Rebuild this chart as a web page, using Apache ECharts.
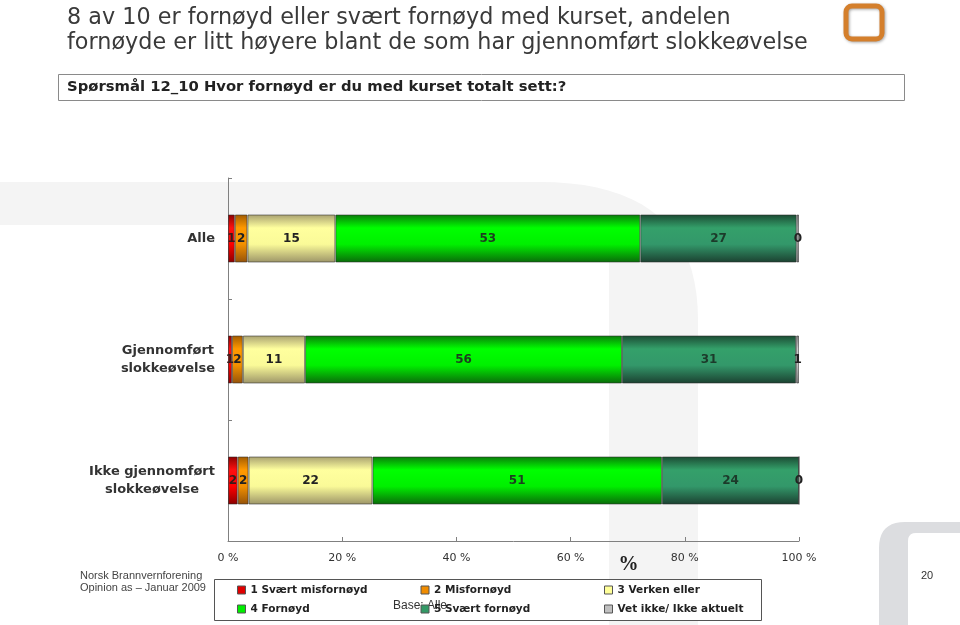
<!DOCTYPE html>
<html>
<head>
<meta charset="utf-8">
<script src="https://cdn.jsdelivr.net/npm/echarts@6/dist/echarts.min.js"></script>
<style>
html,body{margin:0;padding:0;background:#fff;}
#c{width:960px;height:625px;}
</style>
</head>
<body>
<div id="c"></div>
<script>
var categories = ['Alle', 'Gjennomført\nslokkeøvelse', 'Ikke gjennomført\nslokkeøvelse'];
var seriesNames = ['1 Svært misfornøyd', '2 Misfornøyd', '3 Verken eller', '4 Fornøyd', '5 Svært fornøyd', 'Vet ikke/ Ikke aktuelt'];
var svaertMisfornoyd = [1.2, 0.7, 1.7];
var misfornoyd = [2.2, 1.9, 1.9];
var verkenEller = [15.4, 10.9, 21.7];
var fornoyd = [53.4, 55.5, 50.7];
var svaertFornoyd = [27.4, 30.5, 24.0];
var vetIkke = [0.4, 0.5, 0];
var xTicks = [0, 20, 40, 60, 80, 100];

var values = [svaertMisfornoyd, misfornoyd, verkenEller, fornoyd, svaertFornoyd, vetIkke];
var baseColors = ['#e00000', '#f08c00', '#ffff99', '#00ee00', '#339966', '#c0c0c0'];
var grads = [
  ['#8a0000', '#ff1010', '#ff0000', '#8a0000'],
  ['#a05a00', '#ff9900', '#f29000', '#94520a'],
  ['#a8a070', '#ffff9e', '#fafa98', '#9c9468'],
  ['#0a7a0a', '#00ff00', '#00f000', '#0a6a0a'],
  ['#1b4a33', '#34a06a', '#33986a', '#1b4030'],
  ['#808080', '#d8d8d8', '#cccccc', '#808080']
];
var labelColors = ['#3a1a1a', '#222', '#222', '#1d3d20', '#1c3a2a', '#222'];

function grad(c) {
  return {type: 'linear', x: 0, y: 0, x2: 0, y2: 1, colorStops: [
    {offset: 0, color: c[0]}, {offset: 0.28, color: c[1]},
    {offset: 0.62, color: c[2]}, {offset: 1, color: c[3]}
  ]};
}

// decorative background shape helpers (quadratic corner sampled into polygon points)
function quad(p0, p1, p2, n) {
  var pts = [];
  for (var i = 0; i <= n; i++) {
    var t = i / n, a = (1 - t) * (1 - t), b = 2 * (1 - t) * t, c = t * t;
    pts.push([a * p0[0] + b * p1[0] + c * p2[0], a * p0[1] + b * p1[1] + c * p2[1]]);
  }
  return pts;
}
var wm1 = [[0, 182]].concat(quad([540, 182], [698, 182], [698, 320], 20))
  .concat([[698, 625], [609, 625]]).concat(quad([609, 240], [609, 225], [594, 225], 6)).concat([[0, 225]]);
var wm2 = [[960, 522]].concat(quad([905, 522], [879, 522], [879, 548], 10))
  .concat([[879, 625], [908, 625]]).concat(quad([908, 541], [908, 533], [916, 533], 5)).concat([[960, 533]]);

var series = seriesNames.map(function (n, i) {
  return {
    name: n,
    type: 'bar',
    stack: 'total',
    barWidth: 48,
    data: values[i],
    itemStyle: {color: grad(grads[i]), borderColor: 'rgba(40,40,40,0.55)', borderWidth: 1},
    label: {
      show: true,
      position: 'inside',
      color: labelColors[i],
      fontFamily: 'DejaVu Sans',
      fontWeight: 'bold',
      fontSize: 12,
      formatter: function (p) { return String(Math.round(p.value)); }
    },
    emphasis: {disabled: true}
  };
});

function legendData(from, to) {
  var d = [];
  for (var i = from; i < to; i++) {
    d.push({name: seriesNames[i], itemStyle: {color: baseColors[i], borderColor: '#555', borderWidth: 1}});
  }
  return d;
}
var legendText = {fontFamily: 'DejaVu Sans', fontWeight: 'bold', fontSize: 10.5, color: '#222', width: 150, lineHeight: 12};

var chart = echarts.init(document.getElementById('c'), null, {renderer: 'canvas'});
chart.setOption({
  animation: false,
  backgroundColor: '#fff',
  title: [{
    text: '8 av 10 er fornøyd eller svært fornøyd med kurset, andelen\nfornøyde er litt høyere blant de som har gjennomført slokkeøvelse',
    left: 67, top: 6, padding: 0,
    textStyle: {fontFamily: 'DejaVu Sans', fontSize: 22.3, fontWeight: 'normal', color: '#3a3a3a', lineHeight: 25}
  }, {
    text: 'Spørsmål 12_10 Hvor fornøyd er du med kurset totalt sett:?',
    left: 67, top: 80, padding: 0,
    textStyle: {fontFamily: 'DejaVu Sans', fontSize: 14.8, fontWeight: 'bold', color: '#222'}
  }],
  graphic: [
    {type: 'polygon', z: -10, silent: true, shape: {points: wm1}, style: {fill: '#f4f4f4'}},
    {type: 'polygon', z: -10, silent: true, shape: {points: wm2}, style: {fill: '#dcdde0'}},
    {type: 'rect', z: -5, silent: true, shape: {x: 58.5, y: 74.5, width: 846, height: 26}, style: {fill: '#fff', stroke: '#8a8a8a', lineWidth: 1}},
    {type: 'rect', z: -5, silent: true, shape: {x: 846, y: 6, width: 36, height: 33, r: 6}, style: {fill: 'none', stroke: '#d47f2c', lineWidth: 5, shadowBlur: 3, shadowColor: 'rgba(0,0,0,0.35)', shadowOffsetX: 1, shadowOffsetY: 1}},
    {type: 'rect', z: -5, silent: true, shape: {x: 214.5, y: 579.5, width: 547, height: 41}, style: {fill: '#fff', stroke: '#555', lineWidth: 1}},
    {type: 'text', silent: true, x: 80, y: 576, style: {text: 'Norsk Brannvernforening', fontFamily: 'Liberation Sans', fontSize: 11, fill: '#444', verticalAlign: 'middle'}},
    {type: 'text', silent: true, x: 80, y: 588, style: {text: 'Opinion as – Januar 2009', fontFamily: 'Liberation Sans', fontSize: 11, fill: '#444', verticalAlign: 'middle'}},
    {type: 'text', silent: true, x: 921, y: 576, style: {text: '20', fontFamily: 'Liberation Sans', fontSize: 11, fill: '#333', verticalAlign: 'middle'}},
    {type: 'text', silent: true, x: 393, y: 606, style: {text: 'Base: Alle', fontFamily: 'Liberation Sans', fontSize: 12, fill: '#333', verticalAlign: 'middle'}}
  ],
  legend: [{
    data: legendData(0, 3), left: 237, top: 584, padding: 0, itemWidth: 8, itemHeight: 8, itemGap: 20,
    icon: 'rect', textStyle: legendText, selectedMode: false
  }, {
    data: legendData(3, 6), left: 237, top: 603, padding: 0, itemWidth: 8, itemHeight: 8, itemGap: 20,
    icon: 'rect', textStyle: legendText, selectedMode: false
  }],
  grid: {left: 228, right: 161, top: 178, bottom: 84, containLabel: false},
  xAxis: {
    type: 'value', min: 0, max: 100, interval: 20,
    name: '%', nameLocation: 'middle', nameGap: 14, nameMoveOverlap: false,
    nameTextStyle: {fontFamily: 'Liberation Serif', fontSize: 20, fontWeight: 'bold', color: '#222', padding: [0, 0, 0, 230]},
    axisLine: {show: true, lineStyle: {color: '#808080'}},
    axisTick: {show: true, inside: true, length: 4, lineStyle: {color: '#808080'}},
    splitLine: {show: false},
    axisLabel: {margin: 12, fontFamily: 'DejaVu Sans', fontSize: 11, color: '#333',
      formatter: function (v) { return xTicks.indexOf(v) >= 0 ? v + ' %' : ''; }}
  },
  yAxis: {
    type: 'category', data: categories, inverse: true,
    axisLine: {show: true, lineStyle: {color: '#808080'}},
    axisTick: {show: true, inside: true, length: 4, lineStyle: {color: '#808080'}},
    axisLabel: {
      margin: 13, align: 'right',
      formatter: function (v) { return v.split('\n').map(function (l) { return '{c|' + l + '}'; }).join('\n'); },
      rich: {c: {align: 'center', fontFamily: 'DejaVu Sans', fontWeight: 'bold', fontSize: 13, color: '#333', lineHeight: 18}}
    }
  },
  series: series
});
</script>
</body>
</html>
